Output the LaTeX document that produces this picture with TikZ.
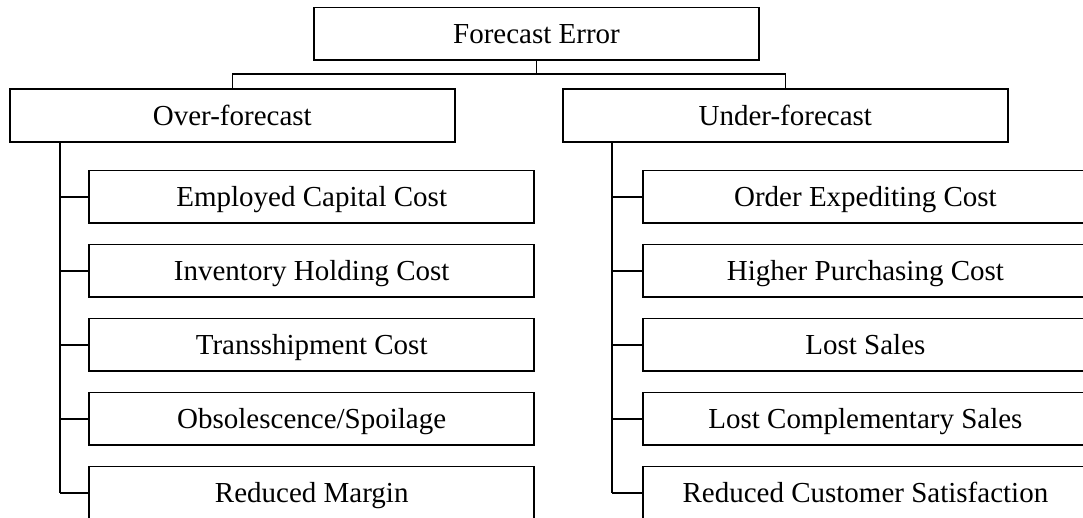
\documentclass[tikz,border=0pt]{standalone}
\usepackage{fontspec}
\setmainfont{Liberation Serif}
\begin{document}
\begin{tikzpicture}[x=1pt,y=-1pt,
  box/.style={draw, line width=1.6pt, minimum width=445pt, minimum height=52.5pt,
    inner sep=0pt, text height=19.5pt, text depth=0pt,
    font=\fontsize{29}{34}\selectfont},
  trunk/.style={line width=2pt},
  link/.style={line width=1.2pt}]
\useasboundingbox (0,0) rectangle (1083,517);
\clip (0,0) rectangle (1083,517);

% root and the two main branches
\node[box] (root)  at (536.5,33.7)  {Forecast Error};
\node[box] (over)  at (232.3,115.5) {Over-forecast};
\node[box] (under) at (785.3,115.5) {Under-forecast};

% cost items under each branch
\node[box] (o1) at (311.7,196.9) {Employed Capital Cost};
\node[box] (o2) at (311.7,270.9) {Inventory Holding Cost};
\node[box] (o3) at (311.7,344.9) {Transshipment Cost};
\node[box] (o4) at (311.7,418.9) {Obsolescence/Spoilage};
\node[box] (o5) at (311.7,492.9) {Reduced Margin};

\node[box] (u1) at (865.4,196.9) {Order Expediting Cost};
\node[box] (u2) at (865.4,270.9) {Higher Purchasing Cost};
\node[box] (u3) at (865.4,344.9) {Lost Sales};
\node[box] (u4) at (865.4,418.9) {Lost Complementary Sales};
\node[box] (u5) at (865.4,492.9) {Reduced Customer Satisfaction};

% helper coordinates for the connector lines
\coordinate (bus) at (0,74);
\coordinate (lt)  at (60,0);
\coordinate (rt)  at (612,0);

% bus from root to both branches
\draw[link] (root.south) -- (root.south |- bus);
\draw[link] (over.north) -- (over.north |- bus) -- (under.north |- bus) -- (under.north);

% vertical trunks
\draw[trunk] (lt |- over.south) -- (lt |- o5.west);
\draw[trunk] (rt |- under.south) -- (rt |- u5.west);

% horizontal ties to each item
\foreach \n in {o1,o2,o3,o4,o5} \draw[link] (lt |- \n.west) -- (\n.west);
\foreach \n in {u1,u2,u3,u4,u5} \draw[link] (rt |- \n.west) -- (\n.west);
\end{tikzpicture}
\end{document}
